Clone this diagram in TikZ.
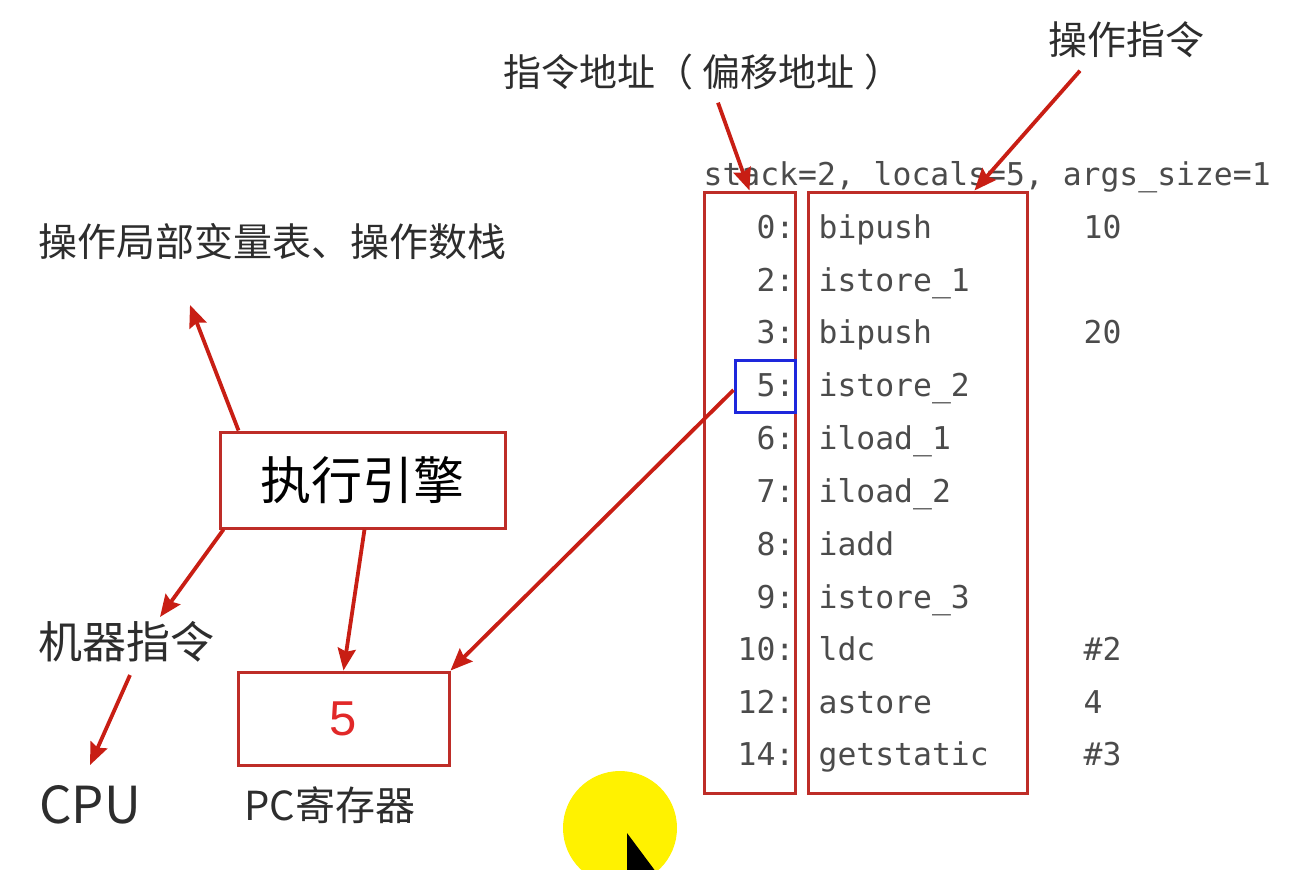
\documentclass[tikz,border=0pt]{standalone}
\usepackage{xcolor}
\usepackage{tikz}
\usetikzlibrary{arrows.meta}
\usepackage{fontspec}
\setmainfont{Noto Sans CJK SC}
\newfontfamily\codefont{DejaVu Sans Mono}
\newfontfamily\digitfont{Liberation Sans}
\definecolor{boxred}{RGB}{190,45,40}
\definecolor{arrred}{RGB}{200,30,20}
\definecolor{labelgray}{RGB}{45,45,45}
\definecolor{codegray}{RGB}{75,75,75}
\definecolor{slotblue}{RGB}{30,40,220}
\definecolor{pcred}{RGB}{225,40,40}

\begin{document}
\begin{tikzpicture}[x=0.5pt,y=-0.5pt,>={Stealth[length=11pt,width=9pt,inset=1.5pt]},
                    semithick]
  \tikzstyle{redbox}=[draw=boxred,line width=1.5pt,inner sep=0pt]
  \tikzstyle{label}=[text=labelgray,inner sep=0pt]
  \tikzstyle{arr}=[->,draw=arrred,line width=1.9pt]
  \tikzstyle{num}=[anchor=mid east,yshift=-3pt,inner sep=0pt,text=codegray,font=\codefont\fontsize{15.7}{18}\selectfont]
  \tikzstyle{ins}=[anchor=mid west,yshift=-3pt,inner sep=0pt,text=codegray,font=\codefont\fontsize{15.7}{18}\selectfont]

  \useasboundingbox (0,0) rectangle (1291,869);

  % left side: engine and its targets
  \node[label,font=\fontsize{19.5}{22}\selectfont] (stack) at (273,242) {操作局部变量表、操作数栈};
  \node[redbox,minimum width=142.5pt,minimum height=48pt,font=\fontsize{25.5}{28}\selectfont] (engine) at (362.5,480) {执行引擎};
  \node[label,font=\fontsize{22}{25}\selectfont] (instr) at (127,642) {机器指令};
  \node[label,font=\fontsize{25.5}{28}\selectfont] (cpu) at (90,805) {CPU};
  \node[redbox,minimum width=105.5pt,minimum height=46.5pt,text=pcred,font=\digitfont\fontsize{24.5}{27}\selectfont] (pc) at (343.5,718.5) {5};
  \node[label,font=\fontsize{20}{23}\selectfont] (pclabel) at (330,805) {PC寄存器};
  \coordinate (stacktip) at (190,305);

  % right side: bytecode listing
  \node[label,font=\fontsize{19}{22}\selectfont] (addrlabel) at (703,72) {指令地址（\hspace{5pt}偏移地址\hspace{5pt}）};
  \node[label,font=\fontsize{19.5}{22}\selectfont] (oplabel) at (1126,40) {操作指令};
  \node[ins,yshift=0.5pt] (header) at (703,175) {stack=2, locals=5, args\_size=1};
  \node[redbox,minimum width=45.5pt,minimum height=300.5pt] (addr) at (749.5,492.5) {};
  \node[redbox,minimum width=109.5pt,minimum height=300.5pt] (op) at (917.5,492.5) {};
  \node[draw=slotblue,line width=1.5pt,minimum width=30pt,minimum height=26pt,inner sep=0pt] (slot) at (765,386) {};

  \node[num] (a0) at (795,227) {0:};
  \node[ins] (i0) at (818,227) {bipush};
  \node[ins] (v0) at (1083,227) {10};
  \node[num] (a2) at (795,280) {2:};
  \node[ins] (i2) at (818,280) {istore\_1};
  \node[num] (a3) at (795,332) {3:};
  \node[ins] (i3) at (818,332) {bipush};
  \node[ins] (v3) at (1083,332) {20};
  \node[num] (a5) at (795,385) {5:};
  \node[ins] (i5) at (818,385) {istore\_2};
  \node[num] (a6) at (795,438) {6:};
  \node[ins] (i6) at (818,438) {iload\_1};
  \node[num] (a7) at (795,491) {7:};
  \node[ins] (i7) at (818,491) {iload\_2};
  \node[num] (a8) at (795,544) {8:};
  \node[ins] (i8) at (818,544) {iadd};
  \node[num] (a9) at (795,597) {9:};
  \node[ins] (i9) at (818,597) {istore\_3};
  \node[num] (a10) at (795,649) {10:};
  \node[ins] (i10) at (818,649) {ldc};
  \node[ins] (v10) at (1083,649) {\#2};
  \node[num] (a12) at (795,702) {12:};
  \node[ins] (i12) at (818,702) {astore};
  \node[ins] (v12) at (1083,702) {4};
  \node[num] (a14) at (795,754) {14:};
  \node[ins] (i14) at (818,754) {getstatic};
  \node[ins] (v14) at (1083,754) {\#3};

  % arrows
  \draw[arr] ([xshift=10pt]engine.north west) -- (stacktip);
  \draw[arr] ([xshift=2.5pt]engine.south west) -- ([xshift=16.5pt,yshift=2pt]instr.north);
  \draw[arr] ([xshift=1.5pt,yshift=-6pt]instr.south) -- ([yshift=10pt]cpu.north);
  \draw[arr] ([xshift=1pt]engine.south) -- (pc.north);
  \draw[arr] ([yshift=-2pt]slot.west) -- (pc.north east);
  \draw[arr] ([xshift=7.5pt,yshift=-6pt]addrlabel.south) -- (addr.north);
  \draw[arr] ([xshift=-23pt,yshift=-6pt]oplabel.south) -- ([xshift=28.5pt]op.north);

  % pointer highlight
  \begin{scope}
    \clip (0,0) rectangle (1291,869);
    \fill[yellow] (620,828) circle[radius=57];
    \fill[black] (627,833) -- (627,880) -- (662,880) -- cycle;
  \end{scope}
\end{tikzpicture}
\end{document}
